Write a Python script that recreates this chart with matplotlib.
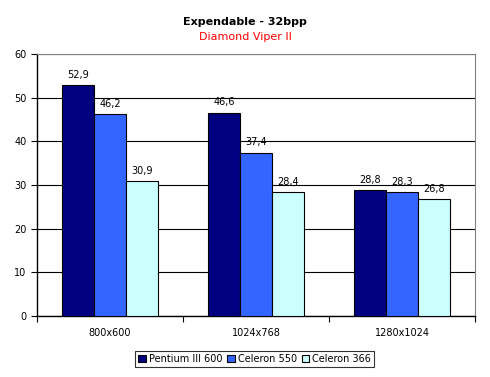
import matplotlib.pyplot as plt
import numpy as np

categories = ["800x600", "1024x768", "1280x1024"]
series = ["Pentium III 600", "Celeron 550", "Celeron 366"]
pentium = [52.9, 46.6, 28.8]
celeron550 = [46.2, 37.4, 28.3]
celeron366 = [30.9, 28.4, 26.8]
colors = ["#000080", "#3366FF", "#CCFFFF"]

fig = plt.figure(figsize=(4.9, 3.77), dpi=100)
ax = fig.add_axes([37 / 490, 1 - 316 / 377, 438 / 490, 262 / 377])

x = np.arange(len(categories))
w = 0.22
for k, vals in enumerate([pentium, celeron550, celeron366]):
    pos = x + (k - 1) * w
    ax.bar(pos, vals, w, color=colors[k], edgecolor="black", linewidth=0.8,
           label=series[k], zorder=3)
    for p, v in zip(pos, vals):
        ax.text(p, v + 1.2, f"{v:.1f}".replace(".", ","), ha="center",
                va="bottom", fontsize=7)

ax.set_xlim(-0.5, 2.5)
ax.set_ylim(0, 60)
ax.set_yticks(range(0, 61, 10))
ax.yaxis.grid(True, color="black", linewidth=0.8, zorder=0)
ax.set_xticks([-0.5, 0.5, 1.5, 2.5], minor=False)
ax.set_xticklabels([])
ax.set_xticks(x, minor=True)
ax.set_xticklabels(categories, minor=True)
ax.tick_params(axis="x", which="minor", length=0, labelsize=7, pad=9)
ax.tick_params(axis="x", which="major", length=4, direction="out")
ax.tick_params(axis="y", length=4, direction="out", labelsize=7)
ax.spines["top"].set_color("#808080")
ax.spines["right"].set_color("#808080")
ax.spines["left"].set_linewidth(1)
ax.spines["bottom"].set_linewidth(1)

fig.text(0.5, 1 - 22 / 377, "Expendable - 32bpp", ha="center", va="center",
         fontsize=8, fontweight="bold")
fig.text(0.5, 1 - 37 / 377, "Diamond Viper II", ha="center", va="center",
         fontsize=8, color="red")

leg = fig.legend(loc="center", bbox_to_anchor=(254.5 / 490, 1 - 359 / 377), ncol=3,
                 fontsize=7, frameon=True, fancybox=False, edgecolor="black",
                 handlelength=0.8, handleheight=0.8, handletextpad=0.3,
                 columnspacing=0.5, borderpad=0.3)
leg.get_frame().set_linewidth(0.8)

fig.savefig("out.png", dpi=100)
